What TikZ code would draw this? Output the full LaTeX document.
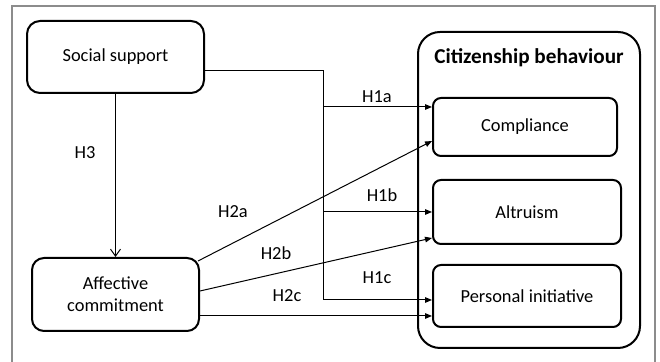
\documentclass[tikz,border=0pt]{standalone}
\usepackage{fontspec}
\setmainfont{Carlito}
\usetikzlibrary{arrows.meta}
\tikzstyle{block} = [draw, line width=1pt, rectangle, font=\fontsize{9.2}{11}\selectfont, align=center, inner sep=2pt]
\tikzstyle{group} = [draw, line width=1pt, rectangle, rounded corners=11pt]
\tikzstyle{title} = [font=\fontsize{10.6}{12}\selectfont\bfseries]
\tikzstyle{hyp} = [font=\fontsize{9.2}{11}\selectfont]
\tikzstyle{link} = [-{Triangle[length=3.5pt, width=2.8pt]}, line width=0.5pt]
\tikzstyle{trunk} = [line width=0.5pt]
\tikzstyle{openlink} = [-{Straight Barb[length=3.5pt, width=5pt]}, line width=0.5pt]
\tikzstyle{frame} = [draw=black!45, line width=0.6pt]

\begin{document}
\begin{tikzpicture}[x=0.5pt, y=-0.5pt]
    \useasboundingbox (0,0) rectangle (660,362);
    % Frame.
    \draw [frame] (12,380) -- (12,6) -- (655,6) -- (655,380);

    % Predictors.
    \node (social) [block, rounded corners=6.5pt, minimum width=88.5pt, minimum height=36pt] at (115.5,57) {Social support};
    \node (affective) [block, rounded corners=6pt, minimum width=83.5pt, minimum height=36.5pt] at (115.5,294.5) {Affective\\commitment};

    % Outcomes.
    \node (citizen) [group, minimum width=111pt, minimum height=158pt] at (529,190) {};
    \node (citizentitle) [title] at (529,58) {Citizenship behaviour};
    \node (compliance) [block, rounded corners=4pt, minimum width=92pt, minimum height=29pt] at (525,127) {Compliance};
    \node (altruism) [block, rounded corners=4pt, minimum width=94pt, minimum height=32pt] at (527,212) {Altruism};
    \node (initiative) [block, rounded corners=4pt, minimum width=94pt, minimum height=31pt] at (527,296) {Personal initiative};

    % Entry points.
    \coordinate (h1a) at ([yshift=10pt]compliance.west);
    \coordinate (h2a) at ([yshift=-7pt]compliance.west);
    \coordinate (h1b) at (altruism.west);
    \coordinate (h2b) at ([yshift=-13pt]altruism.west);
    \coordinate (h1c) at ([yshift=-2pt]initiative.west);
    \coordinate (h2c) at ([yshift=-10pt]initiative.west);
    \coordinate (split) at (323,71);

    % Arrows.
    \draw [trunk] ([yshift=-7pt]social.east) -| (split |- h1c);
    \foreach\t in {h1a, h1b, h1c} {
        \draw [link] (split |- \t) -- (\t);
    }
    \draw [openlink] (social) -- (affective);
    \draw [link] ([xshift=-1pt, yshift=-2pt]affective.north east) -- (h2a);
    \draw [link] ([yshift=1.75pt]affective.east) -- (h2b);
    \draw [link] (affective.east |- h2c) -- (h2c);

    % Labels.
    \node (labelh3) [hyp] at (85,153) {H3};
    \node (labelh2a) [hyp] at (233,212) {H2a};
    \node (labelh2b) [hyp] at (276,253) {H2b};
    \node (labelh2c) [hyp] at (287,296) {H2c};
    \node (labelh1a) [hyp] at (377,97) {H1a};
    \node (labelh1b) [hyp] at (382,195) {H1b};
    \node (labelh1c) [hyp] at (377,278) {H1c};
\end{tikzpicture}
\end{document}
